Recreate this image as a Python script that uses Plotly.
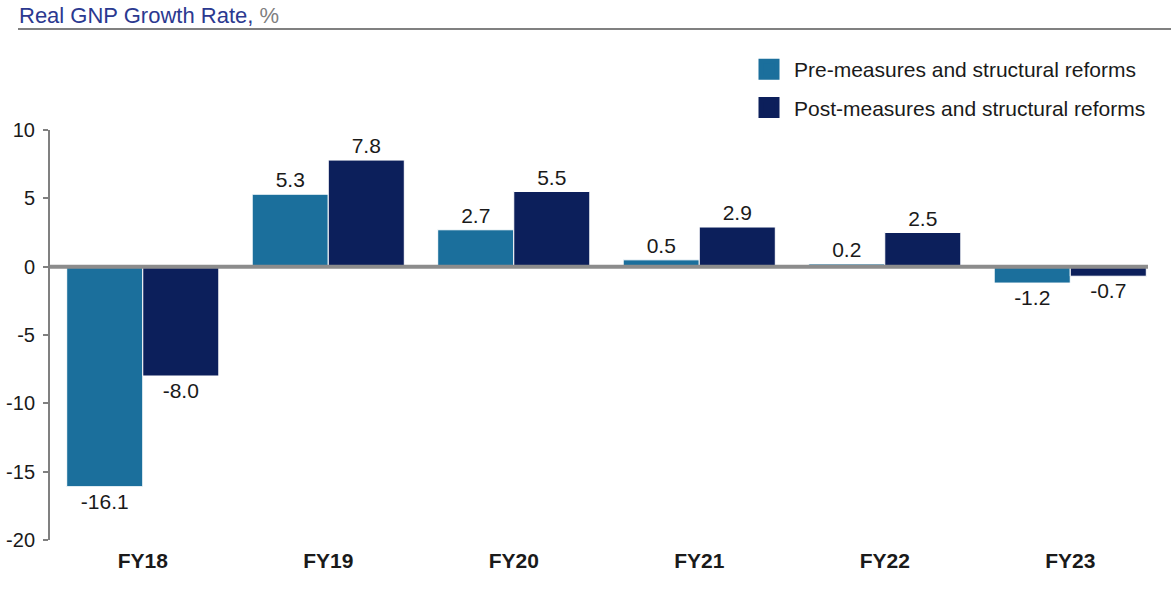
import plotly.graph_objects as go

categories = ["FY18", "FY19", "FY20", "FY21", "FY22", "FY23"]
pre_values = [-16.1, 5.3, 2.7, 0.5, 0.2, -1.2]
post_values = [-8.0, 7.8, 5.5, 2.9, 2.5, -0.7]
series_names = ["Pre-measures and structural reforms", "Post-measures and structural reforms"]
colors = ["#1B6F9C", "#0C1F5B"]
y_ticks = [-20, -15, -10, -5, 0, 5, 10]
y_ticktext = ["-20", "-15", "-10", "-5", "0", "5", "10"]

W, H = 1171, 590
OFF = 0  # page offset of the figure (body margin removed)
ml, mr, mt, mb = 50, 8, 130, 50
pw, ph = W - ml - mr, H - mt - mb


def px_x(x):  # page x -> paper
    return (x - OFF - ml) / pw


def px_y(y):  # page y -> paper
    return 1 - (y - OFF - mt) / ph


fig = go.Figure()
for i, (name, vals, col) in enumerate(zip(series_names, [pre_values, post_values], colors)):
    fig.add_trace(go.Bar(
        x=categories, y=vals, name=name, marker=dict(color=col, line=dict(color="white", width=1)),
        text=[f"{v:.1f}" for v in vals], textposition="outside", cliponaxis=False,
        textfont=dict(size=21, color="#1a1a1a"), showlegend=False,
    ))
    fig.add_trace(go.Scatter(
        x=[None], y=[None], mode="markers", name=name, legendgroup=f"g{i}",
        marker=dict(symbol="square", size=16, color=col, line=dict(color=col, width=5)),
        showlegend=True,
    ))

fig.update_layout(
    width=W, height=H,
    margin=dict(l=ml, r=mr, t=mt, b=mb),
    plot_bgcolor="white", paper_bgcolor="white",
    font=dict(family="Liberation Sans, Arial, sans-serif", size=21, color="#1a1a1a"),
    barmode="group", bargap=0.18, bargroupgap=0.0,
    legend=dict(x=px_x(744), y=px_y(49), xanchor="left", yanchor="top",
                font=dict(size=21, color="#1a1a1a"), bgcolor="rgba(0,0,0,0)", tracegroupgap=8,
                itemsizing="trace", itemwidth=40),
    xaxis=dict(showline=False, showgrid=False, ticks="", automargin=False,
               tickfont=dict(size=21, color="#1a1a1a"),
               ticklabelstandoff=6, tickprefix="<b>", ticksuffix="</b>"),
    yaxis=dict(range=[-20, 10], tickvals=y_ticks, ticktext=y_ticktext, showgrid=False, zeroline=False,
               automargin=False,
               showline=True, linecolor="#808080", linewidth=2, ticks="outside", ticklen=5,
               tickcolor="#808080", tickwidth=2, tickfont=dict(size=20, color="#1a1a1a"), ticklabelstandoff=4),
    annotations=[dict(xref="paper", yref="paper", x=px_x(17), y=px_y(16),
                      xanchor="left", yanchor="middle", showarrow=False,
                      text="Real GNP Growth Rate, <span style='color:#7f7f7f'>%</span>",
                      font=dict(size=22, color="#2B3990"))],
    shapes=[
        dict(type="line", xref="paper", yref="paper", x0=px_x(18), x1=px_x(1175),
             y0=px_y(29), y1=px_y(29), line=dict(color="#808080", width=2)),
        dict(type="line", xref="paper", yref="y", x0=0, x1=px_x(1148), y0=0, y1=0,
             line=dict(color="#8c8c8c", width=4), layer="above"),
    ],
)
fig.write_html("out.html", config={"displayModeBar": False},
               post_script="document.body.style.margin='0';")
